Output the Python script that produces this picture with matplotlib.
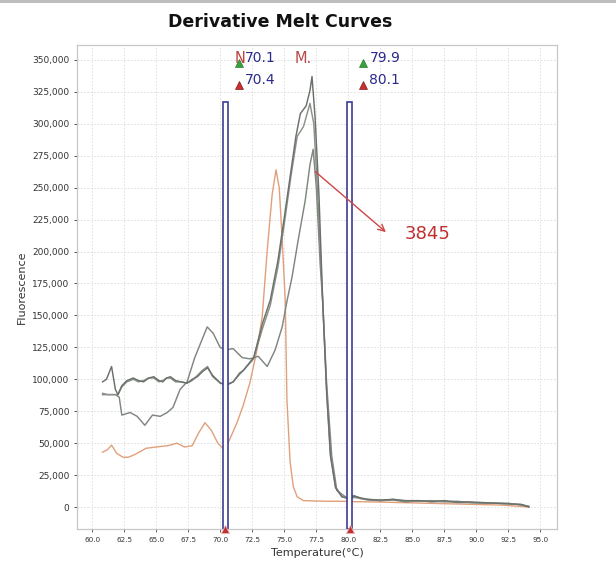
import matplotlib
matplotlib.use("Agg")
import matplotlib.pyplot as plt
from matplotlib.ticker import FuncFormatter, MultipleLocator
from matplotlib.patches import Rectangle

# ---------------- data ----------------
# Grey curve 1 (highest peak)
t_p1 = [60.8, 61.1, 61.5, 61.8, 62.0, 62.3, 62.7, 63.2, 63.6, 64.0, 64.4, 64.8, 65.2, 65.5, 65.8, 66.1, 66.5,
        66.9, 67.4, 67.8, 68.2, 68.6, 69.0, 69.4, 70.0, 70.5, 71.0, 71.5, 71.8, 72.6, 73.3, 73.9, 74.5, 75.0,
        75.5, 75.9, 76.25, 76.7, 77.0, 77.16, 77.4, 77.7, 78.0, 78.3, 78.6, 79.0, 79.5, 80.0, 80.5, 81.0,
        81.5, 82.5, 83.5, 84.5, 85.5, 86.5, 87.5, 88.5, 89.5, 90.5, 91.5, 92.5, 93.5, 94.1]
f_p1 = [98000, 100000, 110000, 92000, 88000, 95000, 99000, 101000, 99000, 98000, 101000, 102000, 99000, 98000,
        101000, 102000, 99000, 98000, 97000, 100000, 102000, 106000, 109000, 103000, 97000, 95500, 98000, 104000,
        107000, 117000, 144000, 162000, 193000, 227000, 262000, 290000, 308000, 314000, 326000, 337000, 305000,
        245000, 160000, 90000, 40000, 15000, 8000, 7000, 8500, 7000, 6000, 5500, 6000, 5000, 5000, 4500, 5000,
        4000, 4000, 3500, 3000, 2500, 2000, 0]

# Grey curve 2 (middle peak)
t_p2 = [60.8, 61.2, 61.6, 62.0, 62.3, 62.7, 63.2, 63.6, 64.0, 64.4, 64.8, 65.2, 65.5, 65.8, 66.1, 66.5, 66.9,
        67.4, 67.8, 68.2, 68.6, 69.0, 69.4, 70.0, 70.5, 71.0, 71.5, 71.8, 72.6, 73.3, 73.9, 74.5, 75.0, 75.5,
        76.0, 76.5, 77.0, 77.3, 77.6, 78.0, 78.3, 78.6, 79.0, 79.5, 80.0, 80.5, 81.0, 81.5, 82.5, 83.5, 84.5,
        85.5, 86.5, 87.5, 88.5, 89.5, 90.5, 91.5, 92.5, 93.5, 94.1]
f_p2 = [89000, 88000, 88000, 88000, 94000, 98000, 100000, 98000, 99000, 101000, 101000, 98000, 99000, 101000,
        101000, 98000, 98000, 97000, 99000, 103000, 107000, 110000, 102000, 97000, 96000, 98000, 105000, 107000,
        116000, 140000, 158000, 188000, 222000, 258000, 290000, 298000, 316000, 300000, 245000, 160000, 92000,
        42000, 16000, 8000, 6500, 7500, 6500, 5500, 5000, 6000, 4500, 4500, 5000, 4000, 4500, 3500, 3000, 3000,
        3000, 1500, 500]

# Grey curve 3 (lowest peak)
t_p3 = [60.8, 61.3, 61.8, 62.1, 62.3, 62.95, 63.5, 64.1, 64.7, 65.3, 65.85, 66.3, 66.85, 67.4, 68.0, 68.97,
        69.44, 69.98, 70.4, 71.0, 71.7, 72.3, 72.96, 73.66, 74.28, 74.83, 75.22, 75.6, 76.08, 76.63, 77.0,
        77.25, 77.5, 77.8, 78.0, 78.3, 78.7, 79.1, 79.9, 80.4, 80.9, 81.5, 82.5, 83.5, 84.5, 85.5, 86.5, 87.5,
        88.5, 89.5, 90.5, 91.5, 92.5, 93.5, 94.1]
f_p3 = [88000, 88000, 88000, 86000, 72000, 74000, 71000, 64000, 72000, 71000, 74000, 78000, 92000, 98000,
        117000, 141000, 136000, 125000, 123000, 124000, 117000, 116000, 118000, 110000, 123000, 141000, 162000,
        180000, 209000, 240000, 268000, 280000, 250000, 190000, 160000, 97000, 40000, 13000, 7000, 9000, 7000,
        6000, 5000, 5500, 4000, 5000, 4000, 4500, 3500, 3500, 3000, 3000, 2500, 2000, 500]

# Orange curve
t_or = [60.8, 61.2, 61.5, 61.9, 62.4, 62.8, 63.3, 64.2, 65.0, 65.9, 66.6, 67.2, 67.8, 68.3, 68.8, 69.3, 69.8,
        70.2, 70.6, 71.3, 71.8, 72.3, 72.8, 73.27, 73.66, 74.05, 74.35, 74.6, 74.8, 75.07, 75.2, 75.45, 75.7,
        76.0, 76.5, 77.5, 78.5, 79.5, 80.5, 82.0, 84.0, 86.0, 88.0, 90.0, 92.0, 94.1]
f_or = [43000, 45000, 48500, 42000, 39000, 39000, 41000, 46000, 47000, 48000, 50000, 47000, 48000, 58000,
        66000, 60000, 50000, 46000, 50000, 66000, 80000, 97000, 120000, 149000, 201000, 245000, 264000,
        250000, 215000, 162000, 84000, 35000, 16000, 8000, 5000, 4700, 4500, 4500, 4200, 4000, 3500, 3000,
        2500, 2000, 1500, 0]

marker_temps = [70.4, 80.1]
marker_top = 317000
top_labels_upper = ["70.1", "79.9"]
top_labels_lower = ["70.4", "80.1"]
annotation_text = "3845"
x_ticks = [60.0, 62.5, 65.0, 67.5, 70.0, 72.5, 75.0, 77.5, 80.0, 82.5, 85.0, 87.5, 90.0, 92.5, 95.0]

# ---------------- figure ----------------
fig = plt.figure(figsize=(6.16, 5.70), dpi=100)
fig.patches.append(Rectangle((0, 1 - 3 / 570), 1, 3 / 570, transform=fig.transFigure,
                             facecolor="#bdbdbd", edgecolor="none"))
ax = fig.add_axes([77 / 616, 1 - 529 / 570, 480 / 616, 484 / 570])

ax.set_xlim(58.8, 96.3)
ax.set_ylim(-17200, 361700)

ax.set_xticks(x_ticks)
ax.xaxis.set_major_formatter(FuncFormatter(lambda v, p: f"{v:.1f}"))
ax.yaxis.set_major_locator(MultipleLocator(25000))
ax.yaxis.set_major_formatter(FuncFormatter(lambda v, p: f"{int(round(v)):,}"))
ax.tick_params(axis="x", labelsize=5.2, colors="#444444", length=2, width=0.6)
ax.tick_params(axis="y", labelsize=6.5, colors="#333333", length=2, width=0.6)
for lab in ax.get_xticklabels() + ax.get_yticklabels():
    lab.set_color("#333333")

ax.grid(True, color="#dcdcdc", linestyle=(0, (2, 2)), linewidth=0.6)
ax.set_axisbelow(True)
for s in ax.spines.values():
    s.set_color("#c8c8c8")
    s.set_linewidth(0.9)

ax.plot(t_or, f_or, color="#e0a07a", lw=1.0)
ax.plot(t_p3, f_p3, color="#808680", lw=1.05)
ax.plot(t_p2, f_p2, color="#8c918a", lw=1.05)
ax.plot(t_p1, f_p1, color="#6a706a", lw=1.05)

ylo = ax.get_ylim()[0]
for t in marker_temps:
    ax.add_patch(Rectangle((t - 0.21, ylo), 0.42, marker_top - ylo, facecolor="white",
                           edgecolor="#3c3c96", linewidth=1.2, zorder=5))
    ax.plot([t], [ylo], marker="^", color="#c03030", markersize=6, clip_on=False, zorder=6,
            markeredgecolor="#e8b0b0", markeredgewidth=0.6)

for t, up, lo in zip(marker_temps, top_labels_upper, top_labels_lower):
    ax.plot([t + 1.05], [347500], marker="^", color="#3aa040", markersize=6, zorder=6,
            markeredgecolor="#2a7a2a", markeredgewidth=0.5)
    ax.plot([t + 1.05], [330000], marker="^", color="#c83030", markersize=6, zorder=6,
            markeredgecolor="#8a1a1a", markeredgewidth=0.5)
    ax.text(t + 1.55, 351500, up, color="#2b2b8c", fontsize=10, va="center", ha="left", zorder=7)
    ax.text(t + 1.55, 334500, lo, color="#2b2b8c", fontsize=10, va="center", ha="left", zorder=7)

ax.text(71.95, 351500, "N", color="#c04040", fontsize=10.5, va="center", ha="right", zorder=8)
ax.text(75.8, 351500, "M.", color="#b84848", fontsize=10.5, va="center", ha="left", zorder=7)

ax.annotate("", xy=(83.1, 213800), xytext=(77.25, 264000),
            arrowprops=dict(arrowstyle="->", color="#d04545", lw=1.0, mutation_scale=12), zorder=7)
ax.text(84.4, 214000, annotation_text, color="#c03030", fontsize=13, va="center", ha="left", zorder=7)

ax.set_xlabel("Temperature(°C)", fontsize=8, color="#333333", labelpad=4)
ax.set_ylabel("Fluorescence", fontsize=8, color="#333333", labelpad=4)
fig.text(280 / 616, 1 - 22 / 570, "Derivative Melt Curves", fontsize=12.5, fontweight="bold",
         ha="center", va="center", color="#111111")

fig.savefig("out.png", dpi=100)
